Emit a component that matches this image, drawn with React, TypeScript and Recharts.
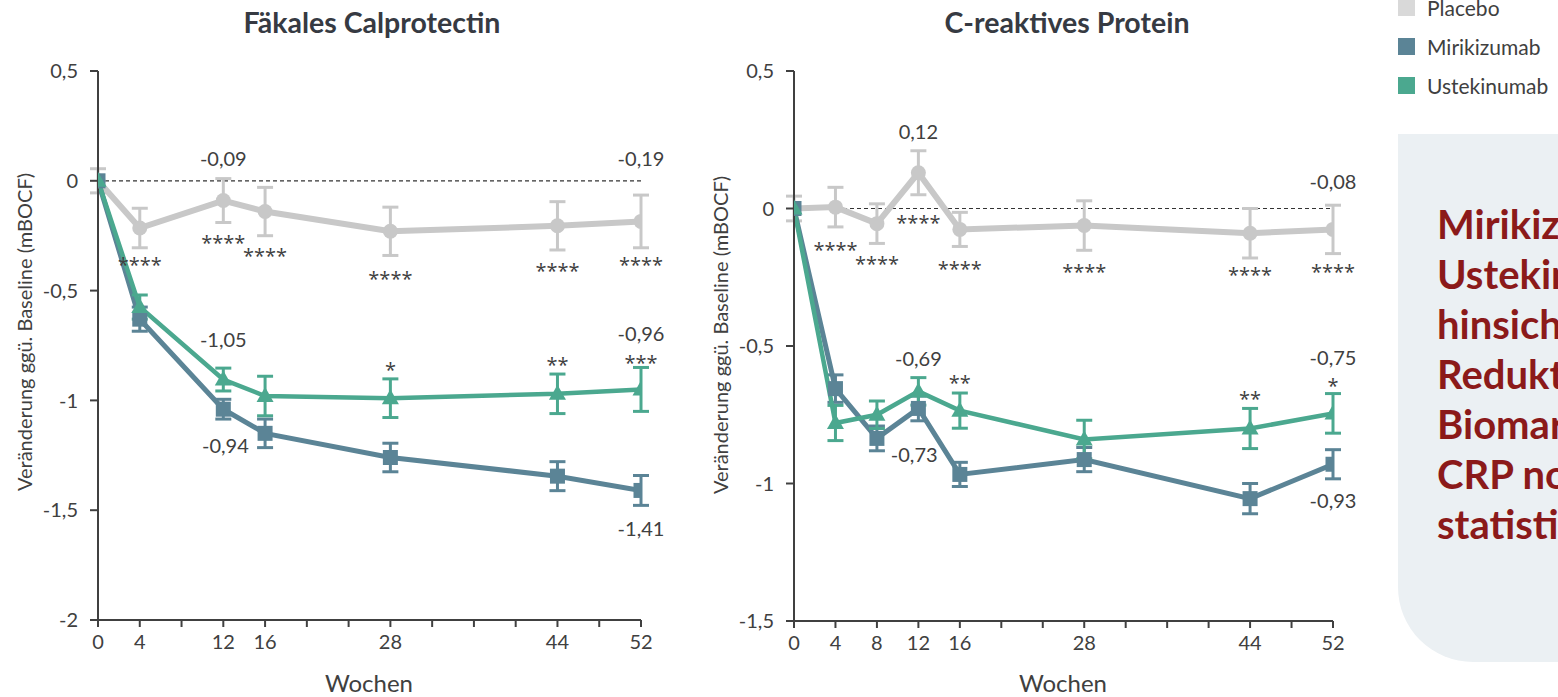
import React from "react";
import { LineChart, Line, XAxis, YAxis, ReferenceLine, ReferenceDot, ErrorBar } from "recharts";

const FONT = "Lato, 'Open Sans', sans-serif";
const STAR_FONT = "'Open Sans', sans-serif";
const TEXT = "#404040";
const AXIS = "#404040";
const C_PLACEBO = "#c8c8c8";
const C_MIRI = "#5b8496";
const C_USTE = "#4ba88f";

// Fäkales Calprotectin
const fcpWeeks = [0, 4, 12, 16, 28, 44, 52];
const fcpPlacebo = [0, -0.215, -0.09, -0.14, -0.23, -0.205, -0.185];
const fcpPlaceboErr = [0.055, 0.09, 0.1, 0.11, 0.11, 0.11, 0.12];
const fcpMiri = [0, -0.63, -1.04, -1.15, -1.26, -1.345, -1.41];
const fcpMiriErr = [0, 0.055, 0.045, 0.065, 0.065, 0.066, 0.068];
const fcpUste = [0, -0.575, -0.905, -0.98, -0.99, -0.97, -0.95];
const fcpUsteErr = [0, 0.055, 0.052, 0.09, 0.088, 0.09, 0.1];

// C-reaktives Protein
const crpWeeks = [0, 4, 8, 12, 16, 28, 44, 52];
const crpPlacebo = [0, 0.005, -0.055, 0.13, -0.076, -0.062, -0.09, -0.076];
const crpPlaceboErr = [0.045, 0.072, 0.072, 0.08, 0.062, 0.09, 0.09, 0.088];
const crpMiri = [0, -0.655, -0.836, -0.727, -0.967, -0.913, -1.055, -0.93];
const crpMiriErr = [0, 0.05, 0.045, 0.045, 0.044, 0.044, 0.055, 0.053];
const crpUste = [0, -0.78, -0.75, -0.665, -0.735, -0.84, -0.8, -0.745];
const crpUsteErr = [0, 0.064, 0.05, 0.05, 0.064, 0.07, 0.073, 0.072];

const weekTicks = [0, 4, 8, 12, 16, 20, 24, 28, 32, 36, 40, 44, 48, 52];
const fcpTickLabels = [0, 4, 12, 16, 28, 44, 52];
const crpTickLabels = [0, 4, 8, 12, 16, 28, 44, 52];
const fcpYTicks = [0.5, 0, -0.5, -1, -1.5, -2];
const crpYTicks = [0.5, 0, -0.5, -1, -1.5];

// value labels and significance stars (anchor in data units)
const fcpNotes = [
  { week: 12, value: 0.098, text: "-0,09" },
  { week: 52, value: 0.098, text: "-0,19" },
  { week: 4, value: -0.362, text: "****" },
  { week: 12, value: -0.262, text: "****" },
  { week: 16, value: -0.321, text: "****" },
  { week: 28, value: -0.426, text: "****" },
  { week: 44, value: -0.389, text: "****" },
  { week: 52, value: -0.362, text: "****" },
  { week: 12, value: -0.726, text: "-1,05" },
  { week: 52, value: -0.699, text: "-0,96" },
  { week: 28, value: -0.84, text: "*" },
  { week: 44, value: -0.817, text: "**" },
  { week: 52, value: -0.808, text: "***" },
  { week: 12.2, value: -1.209, text: "-0,94" },
  { week: 52, value: -1.587, text: "-1,41" },
];

const crpNotes = [
  { week: 12, value: 0.28, text: "0,12" },
  { week: 52, value: 0.095, text: "-0,08" },
  { week: 4, value: -0.131, text: "****" },
  { week: 8, value: -0.182, text: "****" },
  { week: 12, value: -0.036, text: "****" },
  { week: 16, value: -0.2, text: "****" },
  { week: 28, value: -0.211, text: "****" },
  { week: 44, value: -0.222, text: "****" },
  { week: 52, value: -0.211, text: "****" },
  { week: 12, value: -0.549, text: "-0,69" },
  { week: 52, value: -0.545, text: "-0,75" },
  { week: 16, value: -0.618, text: "**" },
  { week: 44, value: -0.676, text: "**" },
  { week: 52, value: -0.629, text: "*" },
  { week: 11.6, value: -0.895, text: "-0,73" },
  { week: 52, value: -1.065, text: "-0,93" },
];

const fcpData = fcpWeeks.map((week, i) => ({
  week,
  placebo: fcpPlacebo[i],
  placeboErr: fcpPlaceboErr[i],
  miri: fcpMiri[i],
  miriErr: fcpMiriErr[i],
  uste: fcpUste[i],
  usteErr: fcpUsteErr[i],
}));

const crpData = crpWeeks.map((week, i) => ({
  week,
  placebo: crpPlacebo[i],
  placeboErr: crpPlaceboErr[i],
  miri: crpMiri[i],
  miriErr: crpMiriErr[i],
  uste: crpUste[i],
  usteErr: crpUsteErr[i],
}));

const CircleDot = (p: any) =>
  p.cx == null ? null : <circle key={`c-${p.index}`} cx={p.cx} cy={p.cy} r={7.5} fill={C_PLACEBO} />;

const SquareDot = (p: any) =>
  p.cx == null ? null : (
    <rect key={`s-${p.index}`} x={p.cx - 7.5} y={p.cy - 7.5} width={15} height={15} fill={C_MIRI} />
  );

const TriangleDot = (p: any) =>
  p.cx == null ? null : (
    <polygon
      key={`t-${p.index}`}
      points={`${p.cx},${p.cy - 9} ${p.cx + 8.5},${p.cy + 6} ${p.cx - 8.5},${p.cy + 6}`}
      fill={C_USTE}
    />
  );

const fmt = (v: number) => String(v).replace(".", ",");

interface PanelProps {
  data: any[];
  notes: { week: number; value: number; text: string }[];
  labels: number[];
  yTicks: number[];
  yDomain: [number, number];
  margin: { top: number; right: number; left: number; bottom: number };
}

const Panel: React.FC<PanelProps> = ({ data, notes, labels, yTicks, yDomain, margin }) => (
  <LineChart width={700} height={697} data={data} margin={margin}>
    <XAxis
      dataKey="week"
      type="number"
      domain={[0, 52]}
      ticks={weekTicks}
      interval={0}
      allowDataOverflow
      tickFormatter={(v: number) => (labels.includes(v) ? String(v) : "")}
      tickSize={7}
      tickMargin={8}
      height={40}
      axisLine={{ stroke: AXIS, strokeWidth: 2 }}
      tickLine={{ stroke: AXIS, strokeWidth: 2 }}
      tick={{ fill: TEXT, fontSize: 20, fontFamily: FONT }}
    />
    <YAxis
      type="number"
      domain={yDomain}
      ticks={yTicks}
      interval={0}
      allowDataOverflow
      tickFormatter={fmt}
      tickSize={8}
      tickMargin={12}
      width={70}
      axisLine={{ stroke: AXIS, strokeWidth: 2 }}
      tickLine={{ stroke: AXIS, strokeWidth: 2 }}
      tick={{ fill: TEXT, fontSize: 20, fontFamily: FONT }}
    />
    <ReferenceLine y={0} stroke="#333" strokeDasharray="4 3" strokeWidth={1.2} />
    <Line
      dataKey="placebo"
      stroke={C_PLACEBO}
      strokeWidth={6}
      dot={CircleDot}
      activeDot={false}
      isAnimationActive={false}
    >
      <ErrorBar dataKey="placeboErr" direction="y" width={8} strokeWidth={3} stroke={C_PLACEBO} />
    </Line>
    <Line
      dataKey="miri"
      stroke={C_MIRI}
      strokeWidth={5}
      dot={SquareDot}
      activeDot={false}
      isAnimationActive={false}
    >
      <ErrorBar dataKey="miriErr" direction="y" width={8} strokeWidth={3} stroke={C_MIRI} />
    </Line>
    <Line
      dataKey="uste"
      stroke={C_USTE}
      strokeWidth={4.5}
      dot={TriangleDot}
      activeDot={false}
      isAnimationActive={false}
    >
      <ErrorBar dataKey="usteErr" direction="y" width={8} strokeWidth={3} stroke={C_USTE} />
    </Line>
    {notes.map((n, i) => {
      const star = n.text.startsWith("*");
      return (
        <ReferenceDot
          key={`n-${i}`}
          x={n.week}
          y={n.value}
          r={0}
          ifOverflow="visible"
          shape={(p: any) => (
            <text
              x={p.cx}
              y={p.cy + (star ? 12 : 7)}
              textAnchor="middle"
              fontSize={20}
              fontFamily={star ? STAR_FONT : FONT}
              fill={TEXT}
            >
              {n.text}
            </text>
          )}
        />
      );
    })}
  </LineChart>
);

const boxLines = [
  "Mirikizumab war",
  "Ustekinumab",
  "hinsichtlich der",
  "Reduktion der",
  "Biomarker FCP und",
  "CRP nominal",
  "statistisch überlegen",
];

export default function App() {
  return (
    <div
      style={{
        position: "absolute",
        left: 0,
        top: 0,
        width: 1558,
        height: 697,
        overflow: "hidden",
        background: "#fff",
        fontFamily: FONT,
      }}
    >
      <div style={{ position: "absolute", left: 0, top: 0 }}>
        <Panel
          data={fcpData}
          notes={fcpNotes}
          labels={fcpTickLabels}
          yTicks={fcpYTicks}
          yDomain={[-2, 0.5]}
          margin={{ top: 71, right: 59, left: 28, bottom: 37 }}
        />
      </div>
      <div style={{ position: "absolute", left: 700, top: 0 }}>
        <Panel
          data={crpData}
          notes={crpNotes}
          labels={crpTickLabels}
          yTicks={crpYTicks}
          yDomain={[-1.5, 0.5]}
          margin={{ top: 71, right: 67, left: 24, bottom: 36 }}
        />
      </div>
      <svg
        width={1558}
        height={697}
        style={{ position: "absolute", left: 0, top: 0, pointerEvents: "none" }}
        fontFamily={FONT}
      >
        <text x={372} y={33} textAnchor="middle" fontSize={28.5} fontWeight={700} fill="#363a42">
          Fäkales Calprotectin
        </text>
        <text x={1067} y={33} textAnchor="middle" fontSize={28.5} fontWeight={700} fill="#363a42">
          C-reaktives Protein
        </text>
        <text x={369} y={692} textAnchor="middle" fontSize={24} fill={TEXT}>
          Wochen
        </text>
        <text x={1063} y={692} textAnchor="middle" fontSize={24} fill={TEXT}>
          Wochen
        </text>
        <text
          transform="translate(24,332) rotate(-90)"
          textAnchor="middle"
          dominantBaseline="central"
          fontSize={20}
          fill={TEXT}
        >
          Veränderung ggü. Baseline (mBOCF)
        </text>
        <text
          transform="translate(720,335) rotate(-90)"
          textAnchor="middle"
          dominantBaseline="central"
          fontSize={20}
          fill={TEXT}
        >
          Veränderung ggü. Baseline (mBOCF)
        </text>

        {/* legend */}
        <rect x={1398} y={-1} width={17} height={17} fill="#d9d9d9" />
        <text x={1427} y={16} fontSize={21} fill={TEXT}>Placebo</text>
        <rect x={1398} y={38} width={17} height={17} fill={C_MIRI} />
        <text x={1427} y={55} fontSize={21} fill={TEXT}>Mirikizumab</text>
        <rect x={1398} y={77} width={17} height={17} fill={C_USTE} />
        <text x={1427} y={94} fontSize={21} fill={TEXT}>Ustekinumab</text>

        {/* key message box */}
        <path d="M1398 134 H1570 V662 H1473 A75 75 0 0 1 1398 587 Z" fill="#ebf0f3" />
        {boxLines.map((t, i) => (
          <text key={i} x={1437} y={239 + i * 50} fontSize={40} fontWeight={700} fill="#8b1a1a">
            {t}
          </text>
        ))}
      </svg>
    </div>
  );
}
